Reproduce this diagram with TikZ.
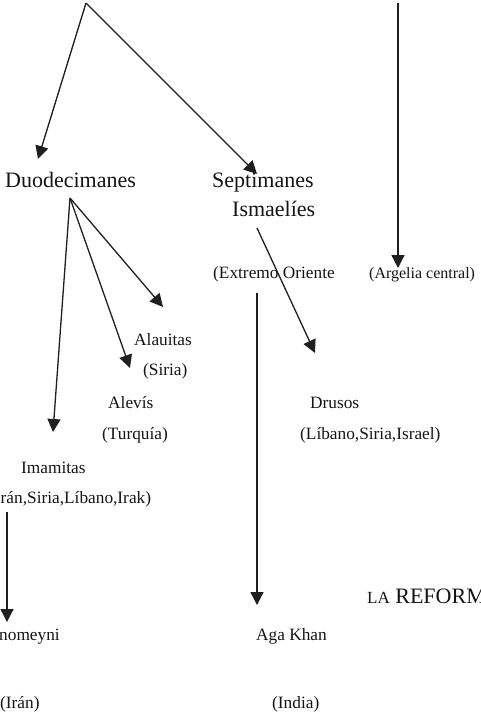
\documentclass[tikz,border=0pt]{standalone}
\usepackage{fontspec}
\setmainfont{Liberation Serif}
\usetikzlibrary{arrows.meta}
\begin{document}
\begin{tikzpicture}[x=1pt,y=-1pt,
  big/.style={inner sep=0pt,anchor=base west,text=black!92,font=\fontsize{22}{26}\selectfont},
  small/.style={inner sep=0pt,anchor=base west,text=black!92,font=\fontsize{17.3}{20}\selectfont},
  ln/.style={line width=1.3pt,draw=black!88},
  arr/.style={ln,-{Triangle[length=13pt,width=13pt]}}]
\useasboundingbox (0,0) rectangle (481,715);
\clip (0,0) rectangle (481,715);
% texts
\node[big] (duo) at (5,187) {Duodecimanes};
\node[big] (sept) at (212,187) {Septimanes};
\node[big] (isma) at (232,216) {Ismaelíes};
\node[small] (extr) at (213,278) {(Extremo Oriente};
\node[small,font=\fontsize{16}{19}\selectfont] (arg) at (369,278) {(Argelia central)};
\node[small] (alau) at (134,345) {Alauitas};
\node[small] (siria) at (143,375) {(Siria)};
\node[small] (alev) at (108,408) {Alevís};
\node[small] (turq) at (102,439) {(Turquía)};
\node[small] (dru) at (310,408) {Drusos};
\node[small] (lib) at (300,439) {(Líbano,Siria,Israel)};
\node[small] (ima) at (21,473) {Imamitas};
\node[small] (iran1) at (-11,503) {(Irán,Siria,Líbano,Irak)};
\node[small] (jom) at (-1,640) {nomeyni};
\node[small] (iran2) at (0,708) {(Irán)};
\node[small] (aga) at (256,640) {Aga Khan};
\node[small] (india) at (272,708) {(India)};
\node[big] (ref) at (367,603) {{\fontsize{17}{20}\selectfont LA} REFORMA};
% connector points
\coordinate (apex) at (86,3);
\coordinate (duoTip) at (38,159);
\coordinate (septTip) at (257,174);
\coordinate (argTop) at (398,3);
\coordinate (argTip) at (398,268);
\coordinate (fork) at (70,198);
\coordinate (imaTip) at (53,432);
\coordinate (alevTip) at (130,368);
\coordinate (alauTip) at (163,307);
\coordinate (ismaStart) at (257,228);
\coordinate (druTip) at (315,353);
\coordinate (agaTop) at (257,293);
\coordinate (agaTip) at (257,605);
\coordinate (jomTop) at (7,512);
\coordinate (jomTip) at (7,622);
% connectors
\draw[arr] (apex) -- (duoTip);
\draw[arr] (apex) -- (septTip);
\draw[arr] (argTop) -- (argTip);
\draw[arr] (fork) -- (imaTip);
\draw[arr] (fork) -- (alevTip);
\draw[arr] (fork) -- (alauTip);
\draw[arr] (ismaStart) -- (druTip);
\draw[arr] (agaTop) -- (agaTip);
\draw[arr] (jomTop) -- (jomTip);
\end{tikzpicture}
\end{document}
